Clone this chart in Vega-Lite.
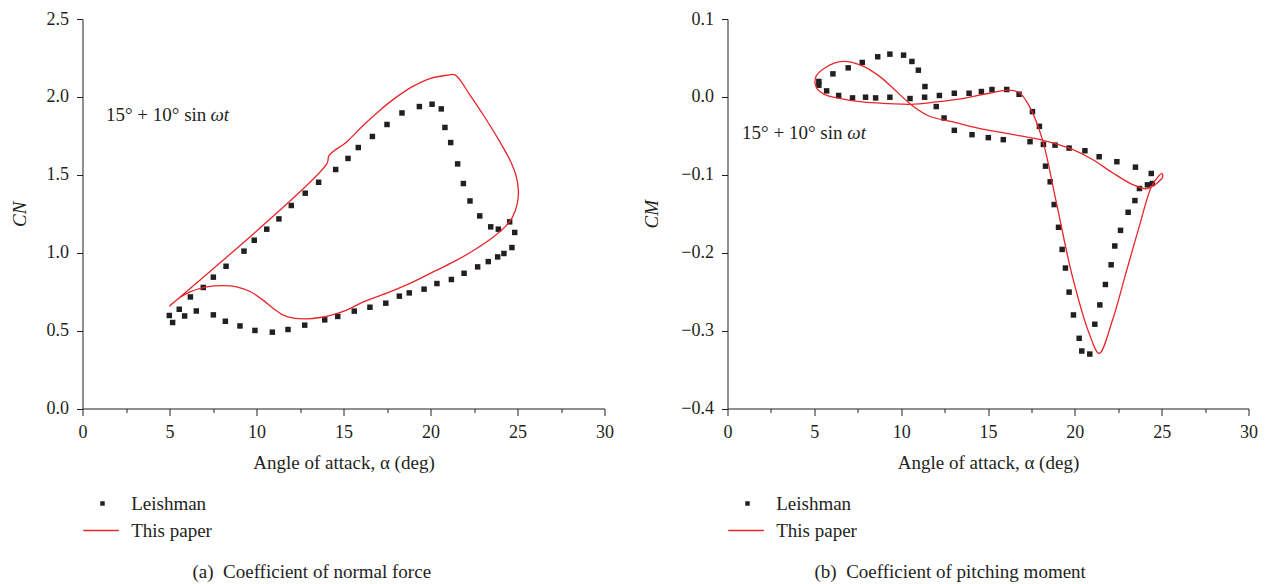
{
  "$schema": "https://vega.github.io/schema/vega-lite/v6.json",
  "background": "white",
  "padding": {"top": 10, "left": 9.5, "right": 0, "bottom": 0},
  "config": {
    "font": "Liberation Serif",
    "view": {"stroke": null},
    "concat": {"spacing": 29},
    "axis": {
      "grid": false,
      "domainColor": "#231f20",
      "tickColor": "#231f20",
      "labelColor": "#231f20",
      "titleColor": "#231f20",
      "labelFont": "Liberation Serif",
      "titleFont": "Liberation Serif",
      "labelFontSize": 18,
      "titleFontSize": 19,
      "titleFontWeight": "normal",
      "domainWidth": 1,
      "tickWidth": 1,
      "labelFlush": false,
      "labelOverlap": false
    },
    "legend": {
      "labelFont": "Liberation Serif",
      "labelFontSize": 19,
      "labelColor": "#231f20",
      "padding": 0
    },
    "title": {"font": "Liberation Serif", "fontSize": 19, "fontWeight": "normal", "color": "#231f20"}
  },
  "datasets": {
    "cnLeishman": [
      {"alpha": 4.99, "cn": 0.597, "series": "Leishman"},
      {"alpha": 5.18, "cn": 0.552, "series": "Leishman"},
      {"alpha": 5.56, "cn": 0.637, "series": "Leishman"},
      {"alpha": 5.87, "cn": 0.594, "series": "Leishman"},
      {"alpha": 6.20, "cn": 0.716, "series": "Leishman"},
      {"alpha": 6.54, "cn": 0.626, "series": "Leishman"},
      {"alpha": 6.94, "cn": 0.777, "series": "Leishman"},
      {"alpha": 7.52, "cn": 0.843, "series": "Leishman"},
      {"alpha": 7.52, "cn": 0.601, "series": "Leishman"},
      {"alpha": 8.21, "cn": 0.560, "series": "Leishman"},
      {"alpha": 8.25, "cn": 0.913, "series": "Leishman"},
      {"alpha": 9.05, "cn": 0.530, "series": "Leishman"},
      {"alpha": 9.28, "cn": 1.010, "series": "Leishman"},
      {"alpha": 9.87, "cn": 1.080, "series": "Leishman"},
      {"alpha": 9.91, "cn": 0.501, "series": "Leishman"},
      {"alpha": 10.59, "cn": 1.151, "series": "Leishman"},
      {"alpha": 10.91, "cn": 0.490, "series": "Leishman"},
      {"alpha": 11.29, "cn": 1.217, "series": "Leishman"},
      {"alpha": 11.81, "cn": 0.507, "series": "Leishman"},
      {"alpha": 12.00, "cn": 1.303, "series": "Leishman"},
      {"alpha": 12.77, "cn": 0.535, "series": "Leishman"},
      {"alpha": 12.80, "cn": 1.382, "series": "Leishman"},
      {"alpha": 13.57, "cn": 1.452, "series": "Leishman"},
      {"alpha": 13.92, "cn": 0.569, "series": "Leishman"},
      {"alpha": 14.55, "cn": 1.534, "series": "Leishman"},
      {"alpha": 14.67, "cn": 0.591, "series": "Leishman"},
      {"alpha": 15.26, "cn": 1.605, "series": "Leishman"},
      {"alpha": 15.62, "cn": 0.625, "series": "Leishman"},
      {"alpha": 15.85, "cn": 1.675, "series": "Leishman"},
      {"alpha": 16.52, "cn": 0.650, "series": "Leishman"},
      {"alpha": 16.66, "cn": 1.746, "series": "Leishman"},
      {"alpha": 17.43, "cn": 0.676, "series": "Leishman"},
      {"alpha": 17.50, "cn": 1.823, "series": "Leishman"},
      {"alpha": 18.21, "cn": 0.721, "series": "Leishman"},
      {"alpha": 18.36, "cn": 1.897, "series": "Leishman"},
      {"alpha": 18.78, "cn": 0.742, "series": "Leishman"},
      {"alpha": 19.36, "cn": 1.938, "series": "Leishman"},
      {"alpha": 19.63, "cn": 0.766, "series": "Leishman"},
      {"alpha": 20.09, "cn": 1.953, "series": "Leishman"},
      {"alpha": 20.37, "cn": 0.802, "series": "Leishman"},
      {"alpha": 20.62, "cn": 1.923, "series": "Leishman"},
      {"alpha": 20.83, "cn": 1.804, "series": "Leishman"},
      {"alpha": 21.16, "cn": 1.707, "series": "Leishman"},
      {"alpha": 21.20, "cn": 0.828, "series": "Leishman"},
      {"alpha": 21.56, "cn": 1.570, "series": "Leishman"},
      {"alpha": 21.89, "cn": 1.444, "series": "Leishman"},
      {"alpha": 21.93, "cn": 0.868, "series": "Leishman"},
      {"alpha": 22.27, "cn": 1.332, "series": "Leishman"},
      {"alpha": 22.71, "cn": 0.909, "series": "Leishman"},
      {"alpha": 22.83, "cn": 1.236, "series": "Leishman"},
      {"alpha": 23.32, "cn": 0.943, "series": "Leishman"},
      {"alpha": 23.46, "cn": 1.166, "series": "Leishman"},
      {"alpha": 23.86, "cn": 0.973, "series": "Leishman"},
      {"alpha": 23.90, "cn": 1.151, "series": "Leishman"},
      {"alpha": 24.22, "cn": 0.995, "series": "Leishman"},
      {"alpha": 24.55, "cn": 1.198, "series": "Leishman"},
      {"alpha": 24.68, "cn": 1.033, "series": "Leishman"},
      {"alpha": 24.84, "cn": 1.130, "series": "Leishman"}
    ],
    "cnPaper": [
      {"i": 1, "alpha": 4.99, "cn": 0.657, "series": "This paper"},
      {"i": 2, "alpha": 14.03, "cn": 1.568, "series": "This paper"},
      {"i": 3, "alpha": 14.18, "cn": 1.626, "series": "This paper"},
      {"i": 4, "alpha": 15.18, "cn": 1.711, "series": "This paper"},
      {"i": 5, "alpha": 16.14, "cn": 1.818, "series": "This paper"},
      {"i": 6, "alpha": 17.10, "cn": 1.915, "series": "This paper"},
      {"i": 7, "alpha": 18.06, "cn": 2.000, "series": "This paper"},
      {"i": 8, "alpha": 19.01, "cn": 2.069, "series": "This paper"},
      {"i": 9, "alpha": 19.97, "cn": 2.118, "series": "This paper"},
      {"i": 10, "alpha": 20.93, "cn": 2.139, "series": "This paper"},
      {"i": 11, "alpha": 21.41, "cn": 2.141, "series": "This paper"},
      {"i": 12, "alpha": 22.27, "cn": 2.011, "series": "This paper"},
      {"i": 13, "alpha": 23.23, "cn": 1.850, "series": "This paper"},
      {"i": 14, "alpha": 23.99, "cn": 1.711, "series": "This paper"},
      {"i": 15, "alpha": 24.57, "cn": 1.594, "series": "This paper"},
      {"i": 16, "alpha": 24.91, "cn": 1.497, "series": "This paper"},
      {"i": 17, "alpha": 25.05, "cn": 1.401, "series": "This paper"},
      {"i": 18, "alpha": 24.99, "cn": 1.316, "series": "This paper"},
      {"i": 19, "alpha": 24.72, "cn": 1.230, "series": "This paper"},
      {"i": 20, "alpha": 24.28, "cn": 1.166, "series": "This paper"},
      {"i": 21, "alpha": 23.61, "cn": 1.101, "series": "This paper"},
      {"i": 22, "alpha": 22.65, "cn": 1.027, "series": "This paper"},
      {"i": 23, "alpha": 21.51, "cn": 0.952, "series": "This paper"},
      {"i": 24, "alpha": 20.36, "cn": 0.888, "series": "This paper"},
      {"i": 25, "alpha": 19.01, "cn": 0.813, "series": "This paper"},
      {"i": 26, "alpha": 17.67, "cn": 0.749, "series": "This paper"},
      {"i": 27, "alpha": 16.14, "cn": 0.684, "series": "This paper"},
      {"i": 28, "alpha": 15.18, "cn": 0.631, "series": "This paper"},
      {"i": 29, "alpha": 14.41, "cn": 0.603, "series": "This paper"},
      {"i": 30, "alpha": 13.65, "cn": 0.584, "series": "This paper"},
      {"i": 31, "alpha": 12.89, "cn": 0.575, "series": "This paper"},
      {"i": 32, "alpha": 12.12, "cn": 0.580, "series": "This paper"},
      {"i": 33, "alpha": 11.54, "cn": 0.599, "series": "This paper"},
      {"i": 34, "alpha": 10.97, "cn": 0.642, "series": "This paper"},
      {"i": 35, "alpha": 10.30, "cn": 0.702, "series": "This paper"},
      {"i": 36, "alpha": 9.63, "cn": 0.751, "series": "This paper"},
      {"i": 37, "alpha": 8.86, "cn": 0.781, "series": "This paper"},
      {"i": 38, "alpha": 8.09, "cn": 0.789, "series": "This paper"},
      {"i": 39, "alpha": 7.14, "cn": 0.781, "series": "This paper"},
      {"i": 40, "alpha": 6.18, "cn": 0.749, "series": "This paper"},
      {"i": 41, "alpha": 5.60, "cn": 0.712, "series": "This paper"},
      {"i": 42, "alpha": 4.99, "cn": 0.657, "series": "This paper"}
    ],
    "cmLeishman": [
      {"alpha": 5.26, "cm": 0.0198, "series": "Leishman"},
      {"alpha": 5.26, "cm": 0.0150, "series": "Leishman"},
      {"alpha": 5.71, "cm": 0.0077, "series": "Leishman"},
      {"alpha": 6.07, "cm": 0.0296, "series": "Leishman"},
      {"alpha": 6.40, "cm": 0.0018, "series": "Leishman"},
      {"alpha": 6.95, "cm": 0.0373, "series": "Leishman"},
      {"alpha": 7.20, "cm": -0.0013, "series": "Leishman"},
      {"alpha": 7.76, "cm": 0.0442, "series": "Leishman"},
      {"alpha": 7.95, "cm": -0.0004, "series": "Leishman"},
      {"alpha": 8.53, "cm": -0.0013, "series": "Leishman"},
      {"alpha": 8.65, "cm": 0.0515, "series": "Leishman"},
      {"alpha": 9.35, "cm": 0.0549, "series": "Leishman"},
      {"alpha": 9.35, "cm": -0.0004, "series": "Leishman"},
      {"alpha": 10.14, "cm": 0.0536, "series": "Leishman"},
      {"alpha": 10.51, "cm": -0.0021, "series": "Leishman"},
      {"alpha": 10.62, "cm": 0.0455, "series": "Leishman"},
      {"alpha": 10.99, "cm": 0.0343, "series": "Leishman"},
      {"alpha": 11.37, "cm": 0.0133, "series": "Leishman"},
      {"alpha": 11.35, "cm": -0.0004, "series": "Leishman"},
      {"alpha": 12.02, "cm": -0.0124, "series": "Leishman"},
      {"alpha": 12.20, "cm": 0.0018, "series": "Leishman"},
      {"alpha": 12.47, "cm": -0.0271, "series": "Leishman"},
      {"alpha": 13.06, "cm": 0.0047, "series": "Leishman"},
      {"alpha": 13.06, "cm": -0.0429, "series": "Leishman"},
      {"alpha": 13.91, "cm": 0.0047, "series": "Leishman"},
      {"alpha": 14.08, "cm": -0.0485, "series": "Leishman"},
      {"alpha": 14.62, "cm": 0.0069, "series": "Leishman"},
      {"alpha": 15.02, "cm": -0.0523, "series": "Leishman"},
      {"alpha": 15.23, "cm": 0.0095, "series": "Leishman"},
      {"alpha": 15.88, "cm": -0.0549, "series": "Leishman"},
      {"alpha": 16.08, "cm": 0.0095, "series": "Leishman"},
      {"alpha": 16.79, "cm": 0.0034, "series": "Leishman"},
      {"alpha": 17.42, "cm": -0.0575, "series": "Leishman"},
      {"alpha": 17.56, "cm": -0.0189, "series": "Leishman"},
      {"alpha": 17.96, "cm": -0.0378, "series": "Leishman"},
      {"alpha": 18.19, "cm": -0.0610, "series": "Leishman"},
      {"alpha": 18.31, "cm": -0.0889, "series": "Leishman"},
      {"alpha": 18.58, "cm": -0.1090, "series": "Leishman"},
      {"alpha": 18.81, "cm": -0.1382, "series": "Leishman"},
      {"alpha": 18.86, "cm": -0.0619, "series": "Leishman"},
      {"alpha": 19.06, "cm": -0.1674, "series": "Leishman"},
      {"alpha": 19.27, "cm": -0.1958, "series": "Leishman"},
      {"alpha": 19.46, "cm": -0.2197, "series": "Leishman"},
      {"alpha": 19.67, "cm": -0.2506, "series": "Leishman"},
      {"alpha": 19.67, "cm": -0.0657, "series": "Leishman"},
      {"alpha": 19.92, "cm": -0.2799, "series": "Leishman"},
      {"alpha": 20.25, "cm": -0.3099, "series": "Leishman"},
      {"alpha": 20.40, "cm": -0.3262, "series": "Leishman"},
      {"alpha": 20.58, "cm": -0.0691, "series": "Leishman"},
      {"alpha": 20.86, "cm": -0.3301, "series": "Leishman"},
      {"alpha": 21.15, "cm": -0.2918, "series": "Leishman"},
      {"alpha": 21.40, "cm": -0.0768, "series": "Leishman"},
      {"alpha": 21.44, "cm": -0.2670, "series": "Leishman"},
      {"alpha": 21.76, "cm": -0.2408, "series": "Leishman"},
      {"alpha": 22.09, "cm": -0.2155, "series": "Leishman"},
      {"alpha": 22.30, "cm": -0.1914, "series": "Leishman"},
      {"alpha": 22.42, "cm": -0.0832, "series": "Leishman"},
      {"alpha": 22.63, "cm": -0.1713, "series": "Leishman"},
      {"alpha": 23.07, "cm": -0.1481, "series": "Leishman"},
      {"alpha": 23.46, "cm": -0.1331, "series": "Leishman"},
      {"alpha": 23.49, "cm": -0.0902, "series": "Leishman"},
      {"alpha": 23.72, "cm": -0.1176, "series": "Leishman"},
      {"alpha": 24.18, "cm": -0.1129, "series": "Leishman"},
      {"alpha": 24.40, "cm": -0.0983, "series": "Leishman"},
      {"alpha": 24.46, "cm": -0.1112, "series": "Leishman"}
    ],
    "cmPaper": [
      {"i": 1, "alpha": 5.03, "cm": 0.0185, "series": "This paper"},
      {"i": 2, "alpha": 5.17, "cm": 0.0099, "series": "This paper"},
      {"i": 3, "alpha": 5.60, "cm": 0.0030, "series": "This paper"},
      {"i": 4, "alpha": 6.22, "cm": -0.0008, "series": "This paper"},
      {"i": 5, "alpha": 7.76, "cm": -0.0065, "series": "This paper"},
      {"i": 6, "alpha": 9.30, "cm": -0.0086, "series": "This paper"},
      {"i": 7, "alpha": 10.55, "cm": -0.0095, "series": "This paper"},
      {"i": 8, "alpha": 11.99, "cm": -0.0065, "series": "This paper"},
      {"i": 9, "alpha": 13.52, "cm": -0.0021, "series": "This paper"},
      {"i": 10, "alpha": 15.06, "cm": 0.0047, "series": "This paper"},
      {"i": 11, "alpha": 16.21, "cm": 0.0086, "series": "This paper"},
      {"i": 12, "alpha": 16.79, "cm": 0.0056, "series": "This paper"},
      {"i": 13, "alpha": 17.37, "cm": -0.0116, "series": "This paper"},
      {"i": 14, "alpha": 18.13, "cm": -0.0545, "series": "This paper"},
      {"i": 15, "alpha": 18.90, "cm": -0.1318, "series": "This paper"},
      {"i": 16, "alpha": 19.86, "cm": -0.2305, "series": "This paper"},
      {"i": 17, "alpha": 20.82, "cm": -0.3034, "series": "This paper"},
      {"i": 18, "alpha": 21.40, "cm": -0.3292, "series": "This paper"},
      {"i": 19, "alpha": 22.17, "cm": -0.2863, "series": "This paper"},
      {"i": 20, "alpha": 22.94, "cm": -0.2262, "series": "This paper"},
      {"i": 21, "alpha": 23.71, "cm": -0.1662, "series": "This paper"},
      {"i": 22, "alpha": 24.38, "cm": -0.1167, "series": "This paper"},
      {"i": 23, "alpha": 24.67, "cm": -0.1060, "series": "This paper"},
      {"i": 24, "alpha": 25.01, "cm": -0.0983, "series": "This paper"},
      {"i": 25, "alpha": 25.06, "cm": -0.1030, "series": "This paper"},
      {"i": 26, "alpha": 24.96, "cm": -0.1060, "series": "This paper"},
      {"i": 27, "alpha": 24.48, "cm": -0.1147, "series": "This paper"},
      {"i": 28, "alpha": 24.09, "cm": -0.1180, "series": "This paper"},
      {"i": 29, "alpha": 23.32, "cm": -0.1125, "series": "This paper"},
      {"i": 30, "alpha": 22.17, "cm": -0.0974, "series": "This paper"},
      {"i": 31, "alpha": 21.02, "cm": -0.0803, "series": "This paper"},
      {"i": 32, "alpha": 19.86, "cm": -0.0674, "series": "This paper"},
      {"i": 33, "alpha": 18.33, "cm": -0.0567, "series": "This paper"},
      {"i": 34, "alpha": 16.40, "cm": -0.0481, "series": "This paper"},
      {"i": 35, "alpha": 14.48, "cm": -0.0404, "series": "This paper"},
      {"i": 36, "alpha": 13.14, "cm": -0.0330, "series": "This paper"},
      {"i": 37, "alpha": 11.60, "cm": -0.0245, "series": "This paper"},
      {"i": 38, "alpha": 10.55, "cm": -0.0095, "series": "This paper"},
      {"i": 39, "alpha": 9.49, "cm": 0.0121, "series": "This paper"},
      {"i": 40, "alpha": 8.72, "cm": 0.0270, "series": "This paper"},
      {"i": 41, "alpha": 7.76, "cm": 0.0399, "series": "This paper"},
      {"i": 42, "alpha": 6.61, "cm": 0.0455, "series": "This paper"},
      {"i": 43, "alpha": 5.65, "cm": 0.0378, "series": "This paper"},
      {"i": 44, "alpha": 5.11, "cm": 0.0270, "series": "This paper"},
      {"i": 45, "alpha": 5.03, "cm": 0.0185, "series": "This paper"}
    ]
  },
  "hconcat": [
    {
      "width": 522,
      "height": 389.5,
      "title": {"text": "(a)\u00a0\u00a0Coefficient of normal force", "orient": "bottom", "anchor": "middle", "frame": "bounds", "offset": 22},
      "layer": [
        {
          "data": {"name": "cnLeishman"},
          "mark": {"type": "point", "shape": "square", "filled": true, "size": 30, "opacity": 1},
          "encoding": {
            "x": {
              "field": "alpha", "type": "quantitative",
              "scale": {"domain": [0, 30], "nice": false, "zero": false},
              "axis": {
                "title": "Angle of attack, α (deg)",
                "values": [0, 2.5, 5, 7.5, 10, 12.5, 15, 17.5, 20, 22.5, 25, 27.5, 30],
                "labelExpr": "datum.value % 5 === 0 ? datum.label : ''",
                "tickSize": {"condition": {"test": "datum.value % 5 === 0", "value": 7}, "value": 4},
                "labelPadding": 8,
                "titlePadding": 12
              }
            },
            "y": {
              "field": "cn", "type": "quantitative",
              "scale": {"domain": [0, 2.5], "nice": false},
              "axis": {
                "title": "CN",
                "titleFontStyle": "italic",
                "values": [0, 0.25, 0.5, 0.75, 1, 1.25, 1.5, 1.75, 2, 2.25, 2.5],
                "labelExpr": "abs(datum.value*2-round(datum.value*2)) < 1e-6 ? format(datum.value, '.1f') : ''",
                "tickSize": {"condition": {"test": "abs(datum.value*2-round(datum.value*2)) < 1e-6", "value": 6}, "value": 4},
                "labelPadding": 8,
                "titlePadding": 17
              }
            },
            "fill": {
              "field": "series", "type": "nominal",
              "scale": {"domain": ["Leishman"], "range": ["#231f20"]},
              "legend": {"title": null, "orient": "none", "legendX": 10.5, "legendY": 475, "symbolSize": 20, "symbolType": "square", "labelOffset": 19.2}
            }
          }
        },
        {
          "data": {"name": "cnPaper"},
          "mark": {"type": "line", "strokeWidth": 1.3, "interpolate": "catmull-rom"},
          "encoding": {
            "x": {"field": "alpha", "type": "quantitative"},
            "y": {"field": "cn", "type": "quantitative"},
            "order": {"field": "i", "type": "quantitative"},
            "stroke": {
              "field": "series", "type": "nominal",
              "scale": {"domain": ["This paper"], "range": ["#e8262a"]},
              "legend": {"title": null, "orient": "none", "legendX": 0, "legendY": 493, "symbolSize": 1267, "symbolType": "stroke", "symbolStrokeWidth": 1.3, "labelOffset": 11.7}
            }
          }
        },
        {
          "data": {"values": [{"alpha": 1.35, "cn": 1.846, "note": "15° + 10° sin"}]},
          "mark": {"type": "text", "align": "left", "baseline": "alphabetic", "fontSize": 19, "font": "Liberation Serif", "color": "#231f20"},
          "encoding": {
            "x": {"field": "alpha", "type": "quantitative"},
            "y": {"field": "cn", "type": "quantitative"},
            "text": {"field": "note"}
          }
        },
        {
          "data": {"values": [{"alpha": 7.35, "cn": 1.846, "note": "ωt"}]},
          "mark": {"type": "text", "align": "left", "baseline": "alphabetic", "fontSize": 19, "font": "Liberation Serif", "fontStyle": "italic", "color": "#231f20"},
          "encoding": {
            "x": {"field": "alpha", "type": "quantitative"},
            "y": {"field": "cn", "type": "quantitative"},
            "text": {"field": "note"}
          }
        }
      ]
    },
    {
      "width": 521,
      "height": 389.5,
      "title": {"text": "(b)\u00a0\u00a0Coefficient of pitching moment", "orient": "bottom", "anchor": "middle", "frame": "bounds", "offset": 22},
      "layer": [
        {
          "data": {"name": "cmLeishman"},
          "mark": {"type": "point", "shape": "square", "filled": true, "size": 30, "opacity": 1},
          "encoding": {
            "x": {
              "field": "alpha", "type": "quantitative",
              "scale": {"domain": [0, 30], "nice": false, "zero": false},
              "axis": {
                "title": "Angle of attack, α (deg)",
                "values": [0, 2.5, 5, 7.5, 10, 12.5, 15, 17.5, 20, 22.5, 25, 27.5, 30],
                "labelExpr": "datum.value % 5 === 0 ? datum.label : ''",
                "tickSize": {"condition": {"test": "datum.value % 5 === 0", "value": 7}, "value": 4},
                "labelPadding": 8,
                "titlePadding": 12
              }
            },
            "y": {
              "field": "cm", "type": "quantitative",
              "scale": {"domain": [-0.4, 0.1], "nice": false, "zero": false},
              "axis": {
                "title": "CM",
                "titleFontStyle": "italic",
                "values": [-0.4, -0.35, -0.3, -0.25, -0.2, -0.15, -0.1, -0.05, 0, 0.05, 0.1],
                "labelExpr": "abs(datum.value*10-round(datum.value*10)) < 1e-6 ? format(datum.value, '.1f') : ''",
                "tickSize": {"condition": {"test": "abs(datum.value*10-round(datum.value*10)) < 1e-6", "value": 6}, "value": 4},
                "labelPadding": 8,
                "titlePadding": 19
              }
            },
            "fill": {
              "field": "series", "type": "nominal",
              "scale": {"domain": ["Leishman"], "range": ["#231f20"]},
              "legend": {"title": null, "orient": "none", "legendX": 10.5, "legendY": 475, "symbolSize": 20, "symbolType": "square", "labelOffset": 19.2}
            }
          }
        },
        {
          "data": {"name": "cmPaper"},
          "mark": {"type": "line", "strokeWidth": 1.3, "interpolate": "catmull-rom"},
          "encoding": {
            "x": {"field": "alpha", "type": "quantitative"},
            "y": {"field": "cm", "type": "quantitative"},
            "order": {"field": "i", "type": "quantitative"},
            "stroke": {
              "field": "series", "type": "nominal",
              "scale": {"domain": ["This paper"], "range": ["#e8262a"]},
              "legend": {"title": null, "orient": "none", "legendX": 0, "legendY": 493, "symbolSize": 1267, "symbolType": "stroke", "symbolStrokeWidth": 1.3, "labelOffset": 11.7}
            }
          }
        },
        {
          "data": {"values": [{"alpha": 0.84, "cm": -0.0536, "note": "15° + 10° sin"}]},
          "mark": {"type": "text", "align": "left", "baseline": "alphabetic", "fontSize": 19, "font": "Liberation Serif", "color": "#231f20"},
          "encoding": {
            "x": {"field": "alpha", "type": "quantitative"},
            "y": {"field": "cm", "type": "quantitative"},
            "text": {"field": "note"}
          }
        },
        {
          "data": {"values": [{"alpha": 6.9, "cm": -0.0536, "note": "ωt"}]},
          "mark": {"type": "text", "align": "left", "baseline": "alphabetic", "fontSize": 19, "font": "Liberation Serif", "fontStyle": "italic", "color": "#231f20"},
          "encoding": {
            "x": {"field": "alpha", "type": "quantitative"},
            "y": {"field": "cm", "type": "quantitative"},
            "text": {"field": "note"}
          }
        }
      ]
    }
  ],
  "resolve": {
    "scale": {"fill": "independent", "stroke": "independent"},
    "legend": {"fill": "independent", "stroke": "independent"}
  }
}
